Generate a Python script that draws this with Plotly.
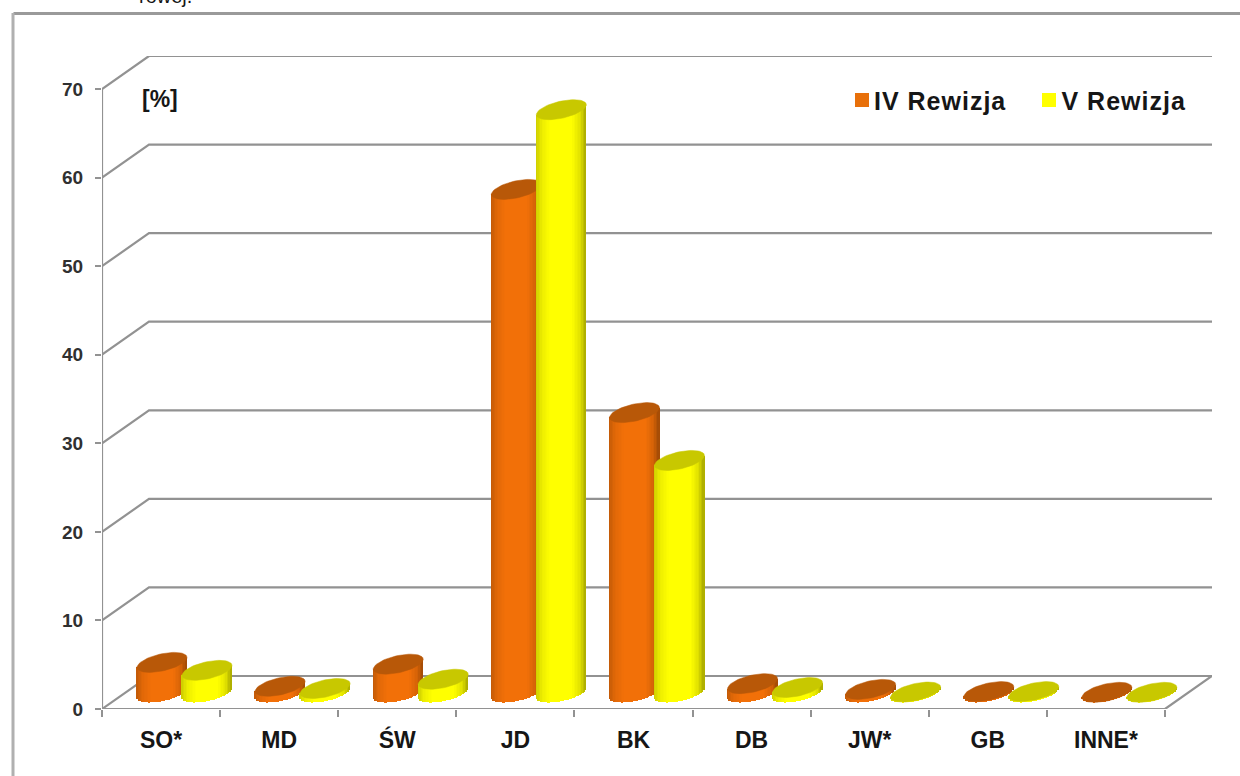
import math
import plotly.graph_objects as go

# ---- data ----
categories = ["SO*", "MD", "ŚW", "JD", "BK", "DB", "JW*", "GB", "INNE*"]
rewizja_iv = [3.4, 0.7, 3.2, 56.8, 31.6, 1.0, 0.35, 0.1, 0.02]
rewizja_v = [2.5, 0.45, 1.5, 65.8, 26.2, 0.56, 0.05, 0.1, 0.02]
y_ticks = [0, 10, 20, 30, 40, 50, 60, 70]

# ---- geometry (pixels of the 1240x776 page) ----
W, H = 1240, 776
X0, X9, XEND = 102, 1165, 1212
Y0, Y70, YTOP = 709, 89, 56
PX_X = (X9 - X0) / 9
PX_Y = (Y0 - Y70) / 70
DEPTH_X = (XEND - X9) / PX_X
DEPTH_Y = (Y70 - YTOP) / PX_Y
BASE = (Y0 - 692.5) / PX_Y
RX, TILT, RY = 25, 5.0, 8.66
OFFSET_IV, OFFSET_V = 60 / PX_X, 105 / PX_X
STRIPS = 34

GRID = "#929292"
TEXT = "#161616"
FONT = "Liberation Sans, Arial, sans-serif"


def shade(u):
    stops = [(-1, .80), (-.75, .93), (-.4, 1.0), (.45, 1.0), (.78, .88), (1, .66)]
    for (a, va), (b, vb) in zip(stops, stops[1:]):
        if u <= b:
            return va + (vb - va) * (u - a) / (b - a)
    return stops[-1][1]


def cylinder_traces(values, offset, rgb, top_rgb, name, axes):
    xa, ya = axes
    xs, ys, bases, widths, cols = [], [], [], [], []
    ex, ey = [], []
    for i, v in enumerate(values):
        c = i + offset
        for k in range(STRIPS):
            u = -1 + (2 * k + 1) / STRIPS
            root = math.sqrt(max(0, 1 - u * u))
            xs.append(c + u * RX / PX_X)
            bases.append(BASE + (TILT * u - RY * root) / PX_Y)
            ys.append(v + RY * root / PX_Y)
            widths.append(2 * RX / PX_X / STRIPS * 1.2)
            s = shade(u)
            cols.append("rgb(%d,%d,%d)" % tuple(round(ch * s) for ch in rgb))
        for a in range(0, 361, 6):
            t = math.radians(a)
            ex.append(c + RX * math.cos(t) / PX_X)
            ey.append(BASE + v + (TILT * math.cos(t) + RY * math.sin(t)) / PX_Y)
        ex.append(None)
        ey.append(None)
    body = go.Bar(x=xs, y=ys, base=bases, width=widths, name=name,
                  marker=dict(color=cols, line=dict(width=0)),
                  xaxis=xa, yaxis=ya, showlegend=False, hoverinfo="skip")
    top = go.Scatter(x=ex, y=ey, mode="lines", fill="toself", name=name,
                     fillcolor="rgb(%d,%d,%d)" % top_rgb,
                     line=dict(width=0.5, color="rgb(%d,%d,%d)" % top_rgb),
                     xaxis=xa, yaxis=ya, showlegend=False, hoverinfo="skip")
    return [body, top]


fig = go.Figure()

# walls, floor and axis lines
n = len(categories)
for v in y_ticks[1:]:
    fig.add_trace(go.Scatter(x=[0, DEPTH_X, n + DEPTH_X], y=[v, v + DEPTH_Y, v + DEPTH_Y],
                             mode="lines", line=dict(color=GRID, width=2.2),
                             showlegend=False, hoverinfo="skip"))
fig.add_trace(go.Scatter(x=[0, DEPTH_X, n + DEPTH_X, n], y=[0, DEPTH_Y, DEPTH_Y, 0],
                         mode="lines", line=dict(color=GRID, width=2.2),
                         showlegend=False, hoverinfo="skip"))
fig.add_trace(go.Scatter(x=[0, 0, n], y=[y_ticks[-1], 0, 0], mode="lines",
                         line=dict(color=GRID, width=2.2),
                         showlegend=False, hoverinfo="skip"))

for tr in cylinder_traces(rewizja_iv, OFFSET_IV, (242, 112, 8), (184, 88, 8), "IV Rewizja", ("x2", "y2")):
    fig.add_trace(tr)
for tr in cylinder_traces(rewizja_v, OFFSET_V, (255, 255, 0), (200, 200, 0), "V Rewizja", ("x3", "y3")):
    fig.add_trace(tr)

xr = [0, (XEND - X0) / PX_X]
yr = [0, (Y0 - YTOP) / PX_Y]
hidden = dict(visible=False, fixedrange=True)


def px(x):
    return (x - X0) / (XEND - X0)


def py(y):
    return (Y0 - y) / (Y0 - YTOP)


shapes = [
    dict(type="line", xref="paper", yref="paper", x0=px(13.5), x1=px(W + 5), y0=py(13.5), y1=py(13.5),
         line=dict(color="#9a9a9a", width=3)),
    dict(type="line", xref="paper", yref="paper", x0=px(13), x1=px(13), y0=py(13), y1=py(H + 5),
         line=dict(color="#b0b0b0", width=3)),
    dict(type="rect", xref="paper", yref="paper", x0=px(855), x1=px(869), y0=py(93), y1=py(107),
         fillcolor="#e8700a", line=dict(width=0)),
    dict(type="rect", xref="paper", yref="paper", x0=px(1042), x1=px(1056), y0=py(93), y1=py(107),
         fillcolor="#ffff00", line=dict(width=0)),
]


def note(text, x, y, size, bold=True, anchor="left"):
    label = "<b>%s</b>" % text if bold else text
    return dict(text=label, xref="paper", yref="paper", x=px(x), y=py(y), xanchor=anchor, yanchor="middle",
                showarrow=False, font=dict(family=FONT, size=size, color=TEXT))


annotations = [
    note("[%]", 140, 99, 23),
    note("IV Rewizja", 877, 101, 25),
    note("V Rewizja", 1064, 101, 25),
    note("rowej.", 137, -4, 20, bold=False),
]

fig.update_layout(
    width=W, height=H, margin=dict(l=X0, r=W - XEND, t=YTOP, b=H - Y0, autoexpand=False),
    paper_bgcolor="white", plot_bgcolor="white", barmode="overlay", bargap=0,
    showlegend=False, shapes=shapes, annotations=annotations,
    xaxis=dict(range=xr, showgrid=False, zeroline=False, showline=False, fixedrange=True,
               tickmode="array", tickvals=[i + 0.5 for i in range(n)], ticktext=[f"<b>{c}</b>" for c in categories],
               ticks="", ticklabelstandoff=15, tickfont=dict(family=FONT, size=23, color=TEXT),
               minor=dict(tickmode="array", tickvals=list(range(n + 1)), ticks="outside", ticklen=7,
                          tickcolor=GRID, tickwidth=2)),
    yaxis=dict(range=yr, showgrid=False, zeroline=False, showline=False, fixedrange=True,
               tickmode="array", tickvals=y_ticks, ticktext=[f"<b>{v}</b>" for v in y_ticks],
               ticks="outside", ticklen=6, tickcolor=GRID, tickwidth=2, ticklabelstandoff=8,
               tickfont=dict(family=FONT, size=19, color="#303030")),
    xaxis2=dict(range=xr, overlaying="x", anchor="y2", **hidden),
    yaxis2=dict(range=yr, overlaying="y", anchor="x2", **hidden),
    xaxis3=dict(range=xr, overlaying="x", anchor="y3", **hidden),
    yaxis3=dict(range=yr, overlaying="y", anchor="x3", **hidden),
)

fig.write_html("out.html", config=dict(displayModeBar=False),
               post_script="document.body.style.margin='0';document.body.style.overflow='hidden';"
                           "document.querySelectorAll('.annotation-text').forEach(function(t){"
                           "if(t.textContent.indexOf('Rewizja')>=0){t.style.letterSpacing='1px';}});")
